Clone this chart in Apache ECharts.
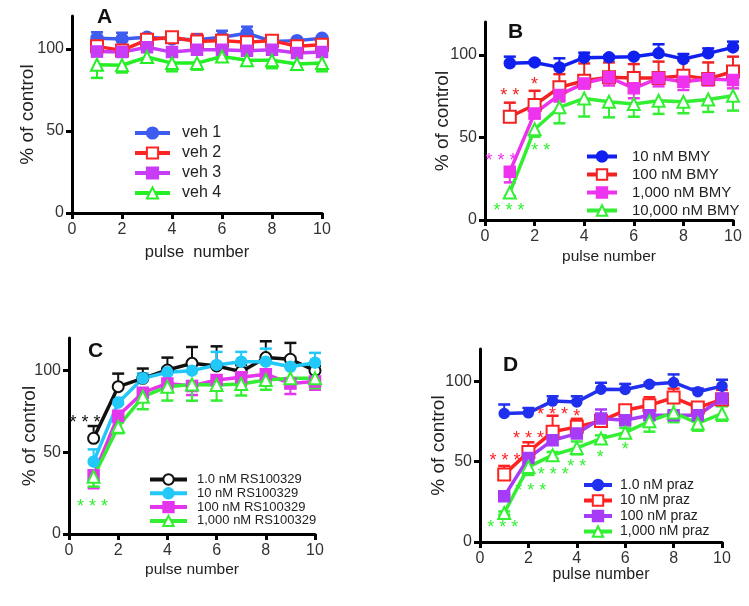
<!DOCTYPE html>
<html>
<head>
<meta charset="utf-8">
<script src="https://cdn.jsdelivr.net/npm/echarts@6/dist/echarts.min.js"></script>
<style>
  html, body { margin: 0; padding: 0; background: #fff; }
  #chart { width: 749px; height: 606px; }
</style>
</head>
<body>
<div id="chart"></div>
<script>
// shared axes
const pulses = [1, 2, 3, 4, 5, 6, 7, 8, 9, 10];
const yTicks = [0, 50, 100];
const xTicks = [0, 2, 4, 6, 8, 10];

// panel A - vehicle
const aNames = ["veh 1", "veh 2", "veh 3", "veh 4"];
const aVeh1 = [106.5, 106, 107, 106, 105.5, 107, 109.5, 104.5, 105, 106.5];
const aVeh2 = [101.5, 99, 105.5, 107, 104.5, 105, 104, 105, 101.5, 102.5];
const aVeh3 = [98.4, 98, 101, 98, 99.4, 99.4, 98.8, 99.4, 97.4, 98];
const aVeh4 = [90.3, 90, 95, 91.3, 91.3, 95.3, 93, 93, 90.7, 91.3];
const aErr1 = [3.6, 3.8, 1, 1, 2, 4, 4, 1, 1, 1];
const aErr2 = [3, 1, 1, 2, 4.5, 3, 2, 2.5, 2, 2];
const aErr3 = [3, 2, 2, 2, 2, 2, 2, 2, 2, 2];
const aErr4 = [8, 4.4, 2.7, 5, 4, 3, 2.7, 4.8, 3.5, 5];

// panel B - BMY
const bNames = ["10 nM BMY", "100 nM BMY", "1,000 nM BMY", "10,000 nM BMY"];
const b10 = [95, 95.5, 92.5, 98.4, 98.6, 99, 101, 97.6, 101, 104.6];
const b100 = [62.6, 69.7, 80.4, 84.4, 86.5, 86, 86, 87.5, 85.5, 90];
const b1000 = [29.3, 64.6, 75.8, 82.8, 86.5, 79.8, 86, 83.8, 85.5, 84.8];
const b10000 = [16.6, 55, 68.3, 73.7, 71.7, 70.3, 72.3, 71.7, 73, 75.3];
const bErr10 = [4, 1, 5.5, 3, 1, 1, 5.5, 3, 3, 3.5];
const bErr100 = [8.5, 8.6, 8, 10.5, 9, 8.5, 10, 9, 10, 9];
const bErr1000 = [6.5, 3, 4, 3, 5, 6, 5, 5, 4, 5];
const bErr10000 = [2, 4.5, 9.7, 11, 9.5, 7.7, 8, 7, 7.5, 9];
const bStars = [[1, 77.8, "* *", 1], [2, 84.2, "*", 1], [0.65, 38.4, "* * *", 2], [2.25, 44.4, "* *", 3], [0.97, 8.1, "* * *", 3]];

// panel C - RS100329
const cNames = ["1.0 nM RS100329", "10 nM RS100329", "100 nM RS100329", "1,000 nM RS100329"];
const c1 = [58.6, 90.2, 95.3, 100.4, 104.5, 102.9, 99.4, 108, 107, 100];
const c10 = [44.3, 80.4, 95.3, 99, 100, 103.5, 105.5, 105.5, 102.4, 104.9];
const c100 = [36, 72.4, 86.5, 92.2, 90.6, 94.3, 96, 97.8, 92.2, 93.3];
const c1000 = [35, 65.7, 84, 90.2, 91.6, 91.2, 91.8, 94.3, 95.3, 95.3];
const cErr1 = [7.5, 8, 6, 7.6, 10, 12, 4, 10, 10, 3];
const cErr10 = [7.5, 3, 3, 3, 5, 8, 6, 8, 6, 6];
const cErr100 = [8, 4, 5, 5, 5.5, 6, 5, 5, 6.5, 5];
const cErr1000 = [6, 4, 7.6, 8.5, 10, 9.5, 7, 6, 6, 6];
const cStars = [[0.65, 70.6, "* * *", 0], [0.96, 18.8, "* * *", 3]];

// panel D - prazosin
const dNames = ["1.0 nM praz", "10 nM praz", "100 nM praz", "1,000 nM praz"];
const d1 = [79.9, 80.3, 87.6, 87.1, 95, 94.8, 98.1, 99.2, 93.4, 96.9];
const d10 = [41.9, 56, 68.5, 71.6, 75.3, 81.9, 85, 89.8, 83.6, 88.6];
const d100 = [28.4, 52.3, 63.3, 67.4, 76.8, 75.7, 78.8, 78.8, 78.8, 89.2];
const d1000 = [18, 46.7, 54, 58.5, 64.3, 68, 75.1, 80.5, 73.7, 79.9];
const dErr1 = [5.6, 3, 3, 3.5, 4, 3.5, 1, 5, 2, 4];
const dErr10 = [5.4, 6, 10, 5, 2, 3, 5, 5.6, 2, 6];
const dErr100 = [1, 1, 1, 1, 5.6, 1, 1, 1, 1, 1];
const dErr1000 = [1, 5, 2, 4, 2, 3, 6.5, 6, 4.5, 4.5];
const dStars = [[1.03, 52.9, "* * *", 1], [2, 66.4, "* * *", 1], [3, 81.5, "* * *", 1], [4, 80.3, "*", 1],
  [0.94, 11, "* * *", 3], [2.1, 34.2, "* * *", 3], [3.03, 44.2, "* * *", 3], [4, 48.8, "* *", 3], [4.97, 55, "*", 3], [6, 59.5, "*", 3]];

const FONT = "'Liberation Sans', Arial, sans-serif";

const panels = [
  {
    letter: "A", grid: { left: 72, top: 16, width: 250, height: 197 }, letterPos: [97, 7],
    xName: "pulse  number", xGap: 31, yGap: 35, xNameSize: 16.5,
    legend: { left: 133, top: 125, itemWidth: 35, itemHeight: 14, itemGap: 4, fontSize: 16, pad: 7 },
    series: [
      { name: aNames[0], data: aVeh1, err: aErr1, dir: "up", color: "#3f5cf0", symbol: "circle", size: 11 },
      { name: aNames[1], data: aVeh2, err: aErr2, dir: "up", color: "#ff2424", symbol: "emptyRect", size: 12 },
      { name: aNames[2], data: aVeh3, err: aErr3, dir: "down", color: "#c83cf8", symbol: "rect", size: 10 },
      { name: aNames[3], data: aVeh4, err: aErr4, dir: "down", color: "#26ee26", symbol: "emptyTriangle", size: 12 },
    ],
    stars: [],
  },
  {
    letter: "B", grid: { left: 485, top: 22, width: 248, height: 198 }, letterPos: [508, 22],
    xName: "pulse number", xGap: 29, yGap: 33, xNameSize: 15.5,
    legend: { left: 585, top: 149, itemWidth: 30, itemHeight: 13, itemGap: 3, fontSize: 15, pad: 10 },
    series: [
      { name: bNames[0], data: b10, err: bErr10, dir: "up", color: "#1020ee", symbol: "circle", size: 10 },
      { name: bNames[1], data: b100, err: bErr100, dir: "up", color: "#f02222", symbol: "emptyRect", size: 12 },
      { name: bNames[2], data: b1000, err: bErr1000, dir: "down", color: "#ee33ee", symbol: "rect", size: 10 },
      { name: bNames[3], data: b10000, err: bErr10000, dir: "down", color: "#33ee33", symbol: "emptyTriangle", size: 12 },
    ],
    stars: bStars,
  },
  {
    letter: "C", grid: { left: 69, top: 338, width: 246, height: 196 }, letterPos: [88, 341],
    xName: "pulse number", xGap: 28, yGap: 30, xNameSize: 15.5,
    legend: { left: 148, top: 473, itemWidth: 37, itemHeight: 13, itemGap: 0.8, fontSize: 13, pad: 5 },
    series: [
      { name: cNames[0], data: c1, err: cErr1, dir: "up", color: "#111111", symbol: "emptyCircle", size: 11 },
      { name: cNames[1], data: c10, err: cErr10, dir: "up", color: "#22c8f8", symbol: "circle", size: 10 },
      { name: cNames[2], data: c100, err: cErr100, dir: "down", color: "#e436ec", symbol: "rect", size: 10 },
      { name: cNames[3], data: c1000, err: cErr1000, dir: "down", color: "#33ee33", symbol: "emptyTriangle", size: 12 },
    ],
    stars: cStars,
  },
  {
    letter: "D", grid: { left: 480, top: 349, width: 242, height: 193 }, letterPos: [503, 355],
    xName: "pulse number", xGap: 25, yGap: 32, xNameSize: 16,
    legend: { left: 582, top: 478, itemWidth: 28, itemHeight: 13, itemGap: 1.5, fontSize: 14, pad: 3 },
    series: [
      { name: dNames[0], data: d1, err: dErr1, dir: "up", color: "#2030ee", symbol: "circle", size: 9 },
      { name: dNames[1], data: d10, err: dErr10, dir: "up", color: "#ff2222", symbol: "emptyRect", size: 12 },
      { name: dNames[2], data: d100, err: dErr100, dir: "up", color: "#a63cf8", symbol: "rect", size: 10 },
      { name: dNames[3], data: d1000, err: dErr1000, dir: "both", color: "#33f033", symbol: "emptyTriangle", size: 12 },
    ],
    stars: dStars,
  },
];

const chart = echarts.init(document.getElementById("chart"));

const grids = [], xAxes = [], yAxes = [], legends = [], series = [], graphics = [];

panels.forEach((p, pi) => {
  grids.push(p.grid);
  xAxes.push({
    type: "value", gridIndex: pi, min: 0, max: 10, interval: 2,
    name: p.xName, nameLocation: "middle", nameGap: p.xGap, nameMoveOverlap: false,
    nameTextStyle: { fontFamily: FONT, fontSize: p.xNameSize, color: "#222" },
    axisLine: { lineStyle: { color: "#000", width: 3 } },
    axisTick: { length: 6, lineStyle: { color: "#000", width: 3 }, customValues: xTicks },
    axisLabel: { fontFamily: FONT, fontSize: 16, color: "#333", margin: 9, customValues: xTicks },
    splitLine: { show: false },
  });
  yAxes.push({
    type: "value", gridIndex: pi, min: 0, max: 120, interval: 50,
    name: "% of control", nameLocation: "middle", nameGap: p.yGap, nameMoveOverlap: false,
    nameTextStyle: { fontFamily: FONT, fontSize: 19, color: "#222" },
    axisLine: { lineStyle: { color: "#000", width: 3 } },
    axisTick: { length: 6, lineStyle: { color: "#000", width: 3 }, customValues: yTicks },
    axisLabel: { fontFamily: FONT, fontSize: 16, color: "#333", margin: 8, customValues: yTicks },
    splitLine: { show: false },
  });
  legends.push({
    orient: "vertical", left: p.legend.left, top: p.legend.top, padding: 0,
    itemWidth: p.legend.itemWidth, itemHeight: p.legend.itemHeight, itemGap: p.legend.itemGap,
    data: p.series.map((s) => s.name),
    lineStyle: { width: 4 },
    textStyle: { fontFamily: FONT, fontSize: p.legend.fontSize, color: "#222", padding: [0, 0, 0, p.legend.pad] },
    selectedMode: false,
  });

  p.series.forEach((s) => {
    // error bars, one cap per bar
    series.push({
      type: "custom", xAxisIndex: pi, yAxisIndex: pi, silent: true, z: 1,
      data: s.data.map((v, i) => [pulses[i], v, s.err[i]]),
      renderItem: (params, api) => {
        const x = api.value(0), y = api.value(1), e = api.value(2);
        const p0 = api.coord([x, y]);
        const ends = s.dir === "both" ? [y + e, y - e] : [s.dir === "up" ? y + e : y - e];
        const children = [];
        ends.forEach((end) => {
          const p1 = api.coord([x, end]);
          children.push(
            { type: "line", shape: { x1: p0[0], y1: p0[1], x2: p1[0], y2: p1[1] }, style: { stroke: s.color, lineWidth: 2 } },
            { type: "line", shape: { x1: p1[0] - 6, y1: p1[1], x2: p1[0] + 6, y2: p1[1] }, style: { stroke: s.color, lineWidth: 2.5 } }
          );
        });
        return { type: "group", children };
      },
    });
    series.push({
      name: s.name, type: "line", xAxisIndex: pi, yAxisIndex: pi, z: 3,
      data: s.data.map((v, i) => [pulses[i], v]),
      symbol: s.symbol, symbolSize: s.size, showAllSymbol: true,
      lineStyle: { color: s.color, width: 3.5 },
      itemStyle: { color: s.color, borderColor: s.color, borderWidth: 2.5 },
      emphasis: { disabled: true },
      animation: false,
    });
  });

  if (p.stars.length) {
    series.push({
      type: "custom", xAxisIndex: pi, yAxisIndex: pi, silent: true, z: 4,
      data: p.stars,
      renderItem: (params, api) => {
        const st = p.stars[params.dataIndex];
        const pt = api.coord([st[0], st[1]]);
        return {
          type: "text", x: pt[0], y: pt[1] + 4,
          style: { text: st[2], fill: p.series[st[3]].color, font: "18px " + FONT, align: "center", verticalAlign: "middle" },
        };
      },
    });
  }

  graphics.push({
    type: "text", left: p.letterPos[0], top: p.letterPos[1],
    style: { text: p.letter, font: "bold 21px " + FONT, fill: "#111" },
  });
});

chart.setOption({
  animation: false,
  grid: grids,
  xAxis: xAxes,
  yAxis: yAxes,
  legend: legends,
  series: series,
  graphic: graphics,
});
window.addEventListener("resize", () => chart.resize());
</script>
</body>
</html>
